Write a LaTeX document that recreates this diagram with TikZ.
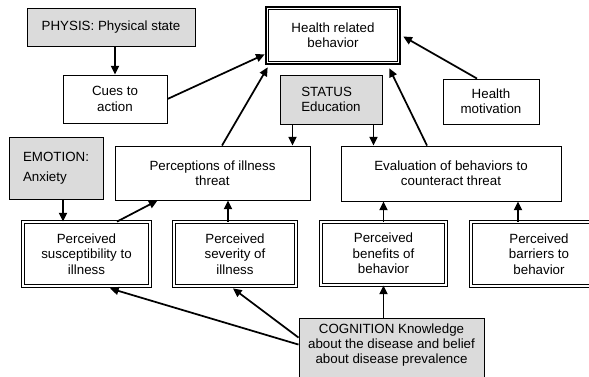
\documentclass[tikz,border=0pt]{standalone}
\usepackage{fontspec}
\setmainfont{Liberation Sans}
\usetikzlibrary{arrows.meta,calc}
\begin{document}
\begin{tikzpicture}[x=0.75pt,y=-0.75pt,
  txt/.style={align=center,inner sep=0pt,font=\fontsize{10}{11.5}\selectfont},
  plainbox/.style={txt,draw,line width=0.7pt,fill=white},
  graybox/.style={txt,draw,line width=0.7pt,fill=black!14},
  dblbox/.style={txt,draw,line width=0.6pt,double,double distance=1.6pt,fill=white},
  arr/.style={line width=1.3pt,-{Triangle[length=6.5pt,width=6pt]}}]
\useasboundingbox[fill=white] (0,0) rectangle (589,376);
% nodes
\node[graybox,minimum width=126pt,minimum height=28.5pt] (physis) at (111,27) {PHYSIS: Physical state};
\node[plainbox,minimum width=78pt,minimum height=36pt] (cues) at (115,99) {Cues to\\action};
\node[plainbox,line width=2pt,minimum width=100.5pt,minimum height=42.75pt] (hrb) at (333,35.5) {Health related\\behavior};
\draw[line width=1.1pt] ($(hrb.north west)+(4,4)$) rectangle ($(hrb.south east)+(-4,-4)$);
\node[graybox,align=left,minimum width=76.5pt,minimum height=36.75pt] (status) at (331,99.5) {STATUS\\Education};
\node[plainbox,minimum width=72pt,minimum height=33.75pt] (hmot) at (491,101.5) {Health\\motivation};
\node[graybox,align=left,font=\fontsize{10}{15}\selectfont,minimum width=70.5pt,minimum height=46.5pt] (emotion) at (56,168) {EMOTION:\\Anxiety};
\node[plainbox,minimum width=146.25pt,minimum height=40.5pt] (perc) at (212.5,173) {Perceptions of illness\\threat};
\node[plainbox,minimum width=165pt,minimum height=41.25pt] (eval) at (451,173.5) {Evaluation of behaviors to\\counteract threat};
\node[dblbox,minimum width=95.25pt,minimum height=48pt] (susc) at (86.5,254) {Perceived\\susceptibility to\\illness};
\node[dblbox,minimum width=91.5pt,minimum height=48pt] (sev) at (235,254) {Perceived\\severity of\\illness};
\node[dblbox,minimum width=93.75pt,minimum height=47.25pt] (ben) at (383.5,253.5) {Perceived\\benefits of\\behavior};
\node[dblbox,minimum width=102pt,minimum height=48pt] (bar) at (539,254) {Perceived\\barriers to\\behavior};
\node[graybox,minimum width=138.75pt,minimum height=52pt] (cog) at (391.5,352.7) {};
\node[txt] (cogtext) at (391.5,345) {COGNITION Knowledge\\about the disease and belief\\about disease prevalence};
% connectors
\draw[arr] (physis.south -| cues.north) -- (cues.north);
\draw[arr] (cues.east) -- ($(hrb.south west)+(0,-11)$);
\draw[arr] ($(perc.north)+(9.5,0)$) -- ($(hrb.south west)+(3,2)$);
\coordinate (s1) at ($(status.south west)+(13,0)$);
\draw[arr] (s1) -- (s1 |- perc.north);
\coordinate (s2) at ($(status.south east)+(-9,0)$);
\draw[arr] (s2) -- (s2 |- eval.north);
\draw[arr] ($(eval.north)+(-24,0)$) -- ($(hrb.south east)+(-12,3)$);
\draw[arr] ($(hmot.north)+(-14,0)$) -- ($(hrb.east)+(2,1)$);
\coordinate (e1) at ($(emotion.south)+(7,0)$);
\draw[arr] (e1) -- (e1 |- susc.north);
\draw[arr] ($(susc.north)+(30.5,0)$) -- ($(perc.south west)+(43,0)$);
\coordinate (v1) at ($(sev.north)+(-7,0)$);
\draw[arr] (v1) -- (v1 |- perc.south);
\draw[arr] (ben.north) -- (ben.north |- eval.south);
\coordinate (b1) at ($(bar.north)+(-21,0)$);
\draw[arr] (b1) -- (b1 |- eval.south);
\draw[arr] ($(cog.north west)+(0,27)$) -- ($(susc.south)+(23.5,2)$);
\draw[arr] ($(cog.north west)+(0,20)$) -- ($(sev.south)+(-2,2)$);
\draw[arr] (cog.north -| ben.south) -- (ben.south);
\end{tikzpicture}
\end{document}
